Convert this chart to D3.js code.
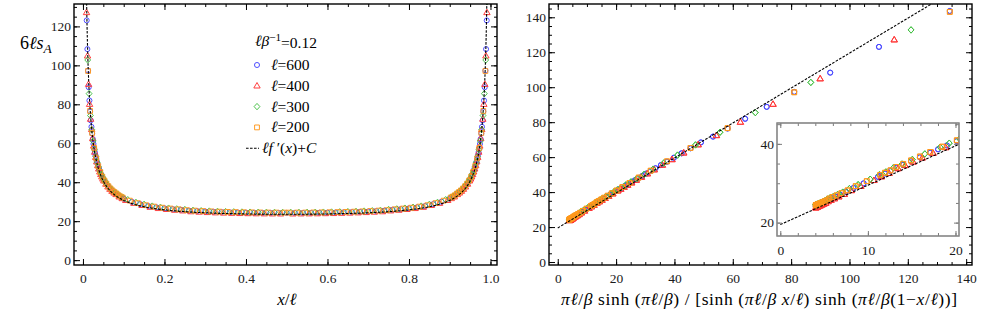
<!DOCTYPE html>
<html lang="en">
<head>
<meta charset="utf-8">
<script src="https://cdn.jsdelivr.net/npm/d3@7"></script>
<style>
    body { margin: 0; background: #fff; }
    .tick line { stroke: #000; stroke-width: 1; }
    .inset .tick line { stroke: #7a7a7a; }
    .frame { fill: none; stroke: #000; stroke-width: 1.4; }
    .inset-frame { fill: #fff; stroke: #8a8a8a; stroke-width: 1.2; }
</style>
</head>
<body>
<script>
// ---- data (half range x/l <= 0.5, the curves are symmetric about x/l = 0.5) ----
var betaInv = 0.12;
var seriesNames = ["600", "400", "300", "200"];

var t600 = [0.0075, 0.00917, 0.01083, 0.0125, 0.01417, 0.01583, 0.0175, 0.01917, 0.02083, 0.0225,
    0.02417, 0.02583, 0.0275, 0.02917, 0.03083, 0.0325, 0.03417, 0.03583, 0.0375, 0.03917,
    0.04083, 0.04417, 0.04583, 0.04917, 0.0525, 0.05583, 0.05917, 0.0625, 0.0675, 0.0725,
    0.0775, 0.0825, 0.0875, 0.0925, 0.0975,
    0.10, 0.12, 0.14, 0.16, 0.18, 0.20, 0.22, 0.24, 0.26, 0.28, 0.30, 0.32, 0.34, 0.36, 0.38,
    0.40, 0.42, 0.44, 0.46, 0.48, 0.50];
var s600 = [143.6, 123.07, 108.34, 97.32, 88.77, 81.95, 76.38, 71.74, 68.43, 65.08,
    62.17, 59.64, 57.40, 55.42, 53.64, 52.04, 50.60, 49.29, 48.10, 46.99,
    45.99, 44.20, 43.40, 41.96, 40.71, 39.60, 38.62, 37.74, 36.59, 35.59,
    34.72, 33.95, 33.08, 32.47, 31.93,
    31.61, 29.97, 28.81, 27.79, 27.13, 26.60, 26.18, 25.83, 25.40, 25.16, 24.96, 24.80, 24.66, 24.54, 24.44,
    24.37, 24.31, 24.26, 24.23, 24.21, 24.20];

var t400 = [0.00875, 0.01125, 0.01375, 0.01625, 0.01875, 0.02125, 0.02375, 0.02625, 0.02875, 0.03125,
    0.03375, 0.03625, 0.03875, 0.04125, 0.04375, 0.04625, 0.04875, 0.05125, 0.05625, 0.06125,
    0.06625, 0.07125, 0.07625, 0.08125, 0.08875, 0.09625,
    0.105, 0.125, 0.145, 0.165, 0.185, 0.205, 0.225, 0.245, 0.265, 0.285, 0.305, 0.325, 0.345,
    0.365, 0.385, 0.405, 0.425, 0.445, 0.465, 0.485];
var s400 = [127.17, 104.90, 90.32, 80.06, 72.42, 67.14, 62.46, 58.65, 55.49, 52.82,
    50.54, 48.58, 46.87, 45.35, 44.01, 42.81, 41.73, 40.76, 39.08, 37.66,
    36.46, 35.42, 34.53, 33.74, 32.53, 31.67,
    30.74, 29.24, 28.17, 27.21, 26.58, 26.09, 25.69, 25.36, 24.93, 24.71, 24.52, 24.36, 24.23,
    24.12, 24.02, 23.95, 23.89, 23.85, 23.82, 23.80];

var t300 = [0.00833, 0.01167, 0.015, 0.01833, 0.02167, 0.025, 0.02833, 0.03167, 0.035, 0.03833,
    0.04167, 0.045, 0.04833, 0.05167, 0.055, 0.05833, 0.065, 0.07167, 0.07833, 0.085,
    0.09167, 0.09833,
    0.11, 0.13, 0.15, 0.17, 0.19, 0.21, 0.23, 0.25, 0.27, 0.29, 0.31, 0.33, 0.35, 0.37, 0.39,
    0.41, 0.43, 0.45, 0.47, 0.49];
var s300 = [132.77, 102.75, 85.48, 74.25, 66.99, 61.17, 56.68, 53.12, 50.23, 47.84,
    45.81, 44.09, 42.61, 41.31, 40.17, 39.15, 37.44, 36.04, 34.88, 33.91,
    32.87, 32.15,
    31.02, 29.64, 28.64, 27.74, 27.15, 26.68, 26.30, 25.98, 25.57, 25.36, 25.18, 25.02, 24.90, 24.79, 24.70,
    24.63, 24.58, 24.54, 24.51, 24.50];

var t200 = [0.0075, 0.0125, 0.0175, 0.0225, 0.0275, 0.0325, 0.0375, 0.0425, 0.0475, 0.0525,
    0.0575, 0.0625, 0.0675, 0.0725, 0.0775, 0.0825, 0.0875, 0.0925, 0.0975,
    0.115, 0.135, 0.155, 0.175, 0.195, 0.215, 0.235, 0.255, 0.275, 0.295, 0.315, 0.335, 0.355,
    0.375, 0.395, 0.415, 0.435, 0.455, 0.475, 0.495];
var s200 = [143.1, 97.1, 76.58, 65.28, 57.60, 52.24, 48.30, 45.26, 42.86, 40.91,
    39.29, 37.94, 36.79, 35.79, 34.92, 34.15, 33.28, 32.67, 32.13,
    30.53, 29.26, 28.19, 27.48, 26.92, 26.48, 26.11, 25.66, 25.42, 25.21, 25.03, 24.89, 24.77,
    24.67, 24.59, 24.52, 24.47, 24.43, 24.41, 24.40];

// l f'(x) + C, dashed curve of the left panel
var fitT = [0.0085, 0.009, 0.010, 0.011, 0.012, 0.013, 0.014, 0.015, 0.017, 0.019, 0.021, 0.023, 0.025,
    0.028, 0.031, 0.035, 0.040, 0.045, 0.050, 0.060, 0.070, 0.080, 0.090, 0.100, 0.120, 0.140,
    0.160, 0.180, 0.200, 0.250, 0.300, 0.350, 0.400, 0.450, 0.500];
var fitY = [138.21, 131.67, 120.56, 111.47, 103.90, 97.49, 91.99, 87.23, 79.39, 73.20, 68.19, 64.05, 60.58,
    56.29, 52.84, 49.16, 45.59, 42.82, 40.60, 37.28, 34.91, 33.14, 31.76, 30.66, 29.02, 27.86,
    26.99, 26.33, 25.80, 24.88, 24.31, 23.95, 23.72, 23.59, 23.55];

// straight reference line of the right panel
var refX = [0, 140];
var refY = [19.5, 159.5];

var colors = ["#4646ff", "#ff3636", "#44c044", "#ff981c"];
var shapes = ["circle", "triangle", "diamond", "square"];

// ---- helpers ----
var a0 = Math.PI * betaInv;   // pi l / beta
function sinhVar(t) {
    return a0 * Math.sinh(a0) / (Math.sinh(a0 * t) * Math.sinh(a0 * (1 - t)));
}

function mirror(ts, ys) {
    var pts = ts.map(function (t, i) { return {t: t, y: ys[i]}; });
    ts.forEach(function (t, i) {
        if (t < 0.5) pts.push({t: 1 - t, y: ys[i]});
    });
    return pts;
}

var series = [mirror(t600, s600), mirror(t400, s400), mirror(t300, s300), mirror(t200, s200)];
var fitPts = mirror(fitT, fitY).sort(function (a, b) { return a.t - b.t; });

var shapePath = {
    circle: d3.symbol(d3.symbolCircle, 20)(),
    triangle: "M0,-3.3L3.2,2.2L-3.2,2.2Z",
    diamond: "M0,-3.2L2.9,0L0,3.2L-2.9,0Z",
    square: "M-2.4,-2.4h4.8v4.8h-4.8Z"
};

function mathText(sel, parts) {
    parts.forEach(function (p) {
        var ts = sel.append("tspan").text(p[0]);
        if (p[1] && p[1].indexOf("i") >= 0) ts.style("font-style", "italic");
        if (p[1] && p[1].indexOf("sub") >= 0) ts.attr("dy", "0.3em").style("font-size", "0.75em");
        if (p[1] && p[1].indexOf("sup") >= 0) ts.attr("dy", "-0.45em").style("font-size", "0.72em");
        if (p[2]) ts.attr("dy", p[2]);
    });
    return sel;
}

function tickAxis(g, scale, orient, pos, values, size, fmt, pad) {
    var maker = {bottom: d3.axisBottom, top: d3.axisTop, left: d3.axisLeft, right: d3.axisRight}[orient];
    var ax = maker(scale).tickValues(values).tickSize(-size).tickPadding(pad || 3)
        .tickFormat(fmt || "");
    var tr = (orient === "bottom" || orient === "top") ? "translate(0," + pos + ")" : "translate(" + pos + ",0)";
    var a = g.append("g").attr("transform", tr).call(ax);
    a.select(".domain").remove();
    a.selectAll("text").style("font-size", "13.5px").style("fill", "#1a1a1a");
    return a;
}

function frameAxes(g, x, y, box, xt, yt, fmtX, fmtY, padX, padY, major, minor) {
    var xMaj = xt[0], xMin = xt[1], yMaj = yt[0], yMin = yt[1];
    tickAxis(g, x, "bottom", box.y1, xMin, minor);
    tickAxis(g, x, "top", box.y0, xMin, minor);
    tickAxis(g, y, "left", box.x0, yMin, minor);
    tickAxis(g, y, "right", box.x1, yMin, minor);
    tickAxis(g, x, "bottom", box.y1, xMaj, major, fmtX, padX);
    tickAxis(g, x, "top", box.y0, xMaj, major);
    tickAxis(g, y, "left", box.x0, yMaj, major, fmtY, padY);
    tickAxis(g, y, "right", box.x1, yMaj, major);
}

function drawMarkers(g, xAcc, yAcc) {
    series.forEach(function (pts, k) {
        g.append("g").selectAll("path")
            .data(pts)
            .enter().append("path")
            .attr("d", shapePath[shapes[k]])
            .attr("transform", function (d) { return "translate(" + xAcc(d) + "," + yAcc(d) + ")"; })
            .attr("fill", "none")
            .attr("stroke", colors[k])
            .attr("stroke-width", 0.95);
    });
}

var W = 1003, H = 327;
var svg = d3.select("body").append("svg").attr("width", W).attr("height", H);
var defs = svg.append("defs");
function clip(id, b) {
    defs.append("clipPath").attr("id", id).append("rect")
        .attr("x", b.x0).attr("y", b.y0).attr("width", b.x1 - b.x0).attr("height", b.y1 - b.y0);
    return "url(#" + id + ")";
}

// ---- left panel ----
var boxL = {x0: 74, x1: 497, y0: 4, y1: 265};
var xL = d3.scaleLinear().domain([-0.022, 1.016]).range([boxL.x0, boxL.x1]);
var yL = d3.scaleLinear().domain([-2.5, 131.5]).range([boxL.y1, boxL.y0]);
var gL = svg.append("g");
var plotL = gL.append("g").attr("clip-path", clip("clipL", boxL));
drawMarkers(plotL, function (d) { return xL(d.t); }, function (d) { return yL(d.y); });
plotL.append("path")
    .datum(fitPts)
    .attr("d", d3.line().x(function (d) { return xL(d.t); }).y(function (d) { return yL(d.y); }).curve(d3.curveMonotoneX))
    .attr("fill", "none").attr("stroke", "#000").attr("stroke-width", 1.1).attr("stroke-dasharray", "2.6,1.4");
frameAxes(gL, xL, yL, boxL,
    [d3.range(0, 1.01, 0.2), d3.range(0, 1.001, 0.05)],
    [d3.range(0, 121, 20), d3.range(0, 131, 5)],
    function (d) { return d === 0 ? "0" : d.toFixed(1); }, d3.format("d"), 8, 3, 6, 3);
gL.append("rect").attr("class", "frame")
    .attr("x", boxL.x0).attr("y", boxL.y0).attr("width", boxL.x1 - boxL.x0).attr("height", boxL.y1 - boxL.y0);

mathText(gL.append("text").attr("x", 20).attr("y", 49).style("font-size", "18px"),
    [["6"], ["ℓ", "i"], ["s", "i"], ["A", "i sub"]]);
mathText(gL.append("text").attr("x", 287).attr("y", 305).attr("text-anchor", "middle").style("font-size", "17px"),
    [["x", "i"], ["/"], ["ℓ", "i"]]);

// legend
var leg = gL.append("g").style("font-size", "15.5px");
mathText(leg.append("text").attr("x", 255).attr("y", 46),
    [["ℓβ", "i"], ["−1", "sup"], ["=0.12", "", "0.45em"]]);
seriesNames.forEach(function (name, k) {
    var yy = 65 + k * 20.8;
    leg.append("path").attr("d", shapePath[shapes[k]])
        .attr("transform", "translate(257," + yy + ")")
        .attr("fill", "none").attr("stroke", colors[k]).attr("stroke-width", 0.95);
    mathText(leg.append("text").attr("x", 271).attr("y", yy + 5), [["ℓ", "i"], ["=" + name]]);
});
leg.append("line").attr("x1", 246).attr("x2", 259).attr("y1", 148.2).attr("y2", 148.2)
    .attr("stroke", "#000").attr("stroke-width", 1.1).attr("stroke-dasharray", "2.6,1.4");
mathText(leg.append("text").attr("x", 262).attr("y", 153),
    [["ℓ", "i"], ["f", "i"], [" ′("], ["x", "i"], [")+"], ["C", "i"]]);

// ---- right panel ----
var boxR = {x0: 549, x1: 972, y0: 4, y1: 265};
var xR = d3.scaleLinear().domain([-3, 142]).range([boxR.x0, boxR.x1]);
var yR = d3.scaleLinear().domain([-1.7, 147.6]).range([boxR.y1, boxR.y0]);
var gR = svg.append("g");
var plotR = gR.append("g").attr("clip-path", clip("clipR", boxR));
var refPts = refX.map(function (v, i) { return {x: v, y: refY[i]}; });
drawMarkers(plotR, function (d) { return xR(sinhVar(d.t)); }, function (d) { return yR(d.y); });
plotR.append("path")
    .datum(refPts)
    .attr("d", d3.line().x(function (d) { return xR(d.x); }).y(function (d) { return yR(d.y); }))
    .attr("fill", "none").attr("stroke", "#000").attr("stroke-width", 1.1).attr("stroke-dasharray", "2.6,1.4");
frameAxes(gR, xR, yR, boxR,
    [d3.range(0, 141, 20), d3.range(0, 141, 5)],
    [d3.range(0, 141, 20), d3.range(0, 146, 5)],
    d3.format("d"), d3.format("d"), 8, 3, 6, 3);
gR.append("rect").attr("class", "frame")
    .attr("x", boxR.x0).attr("y", boxR.y0).attr("width", boxR.x1 - boxR.x0).attr("height", boxR.y1 - boxR.y0);

mathText(gR.append("text").attr("x", 759).attr("y", 305).attr("text-anchor", "middle")
        .attr("textLength", 396).attr("lengthAdjust", "spacing").style("font-size", "17.5px"),
    [["πℓ", "i"], ["/"], ["β", "i"], [" sinh ("], ["πℓ", "i"], ["/"], ["β", "i"], [") / [sinh ("],
     ["πℓ", "i"], ["/"], ["β", "i"], [" "], ["x", "i"], ["/"], ["ℓ", "i"], [") sinh ("],
     ["πℓ", "i"], ["/"], ["β", "i"], ["(1−"], ["x", "i"], ["/"], ["ℓ", "i"], ["))]"]]);

// ---- inset ----
var boxI = {x0: 777, x1: 959, y0: 123, y1: 236};
var xI = d3.scaleLinear().domain([-0.375, 20.4]).range([boxI.x0, boxI.x1]);
var yI = d3.scaleLinear().domain([16.6, 45.3]).range([boxI.y1, boxI.y0]);
var gI = svg.append("g").attr("class", "inset");
gI.append("rect").attr("class", "inset-frame")
    .attr("x", boxI.x0).attr("y", boxI.y0).attr("width", boxI.x1 - boxI.x0).attr("height", boxI.y1 - boxI.y0);
var plotI = gI.append("g").attr("clip-path", clip("clipI", boxI));
drawMarkers(plotI, function (d) { return xI(sinhVar(d.t)); }, function (d) { return yI(d.y); });
plotI.append("path")
    .datum(refPts)
    .attr("d", d3.line().x(function (d) { return xI(d.x); }).y(function (d) { return yI(d.y); }))
    .attr("fill", "none").attr("stroke", "#000").attr("stroke-width", 1.1).attr("stroke-dasharray", "2.6,1.4");
frameAxes(gI, xI, yI, boxI,
    [[0, 10, 20], d3.range(0, 21, 2)],
    [[20, 40], d3.range(20, 46, 5)],
    d3.format("d"), d3.format("d"), 9, 3, 5, 3);
gI.append("rect").attr("fill", "none").attr("stroke", "#8a8a8a").attr("stroke-width", 1.2)
    .attr("x", boxI.x0).attr("y", boxI.y0).attr("width", boxI.x1 - boxI.x0).attr("height", boxI.y1 - boxI.y0);

// serif face on every text, set inline so the axis defaults do not win
svg.selectAll("text").style("font-family", "'Liberation Serif'");
</script>
</body>
</html>
